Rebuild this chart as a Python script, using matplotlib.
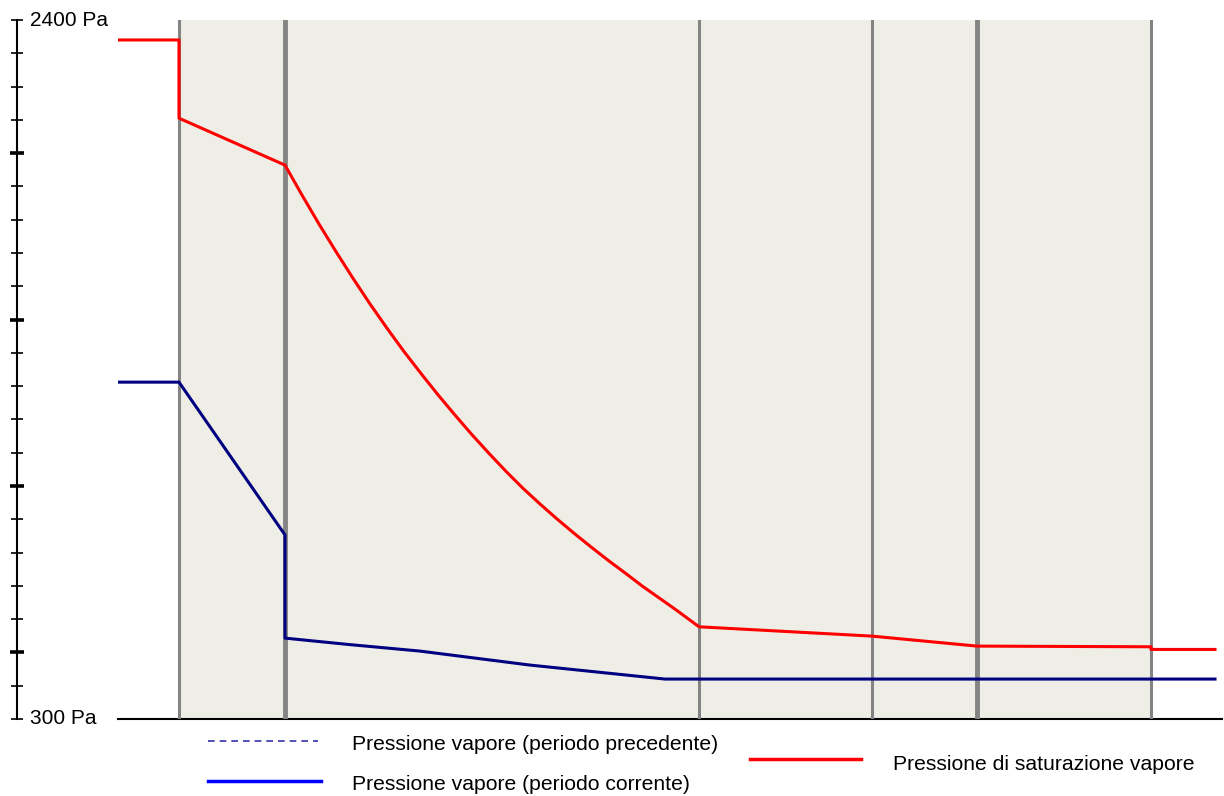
import matplotlib
matplotlib.use("Agg")
import matplotlib.pyplot as plt
from matplotlib.lines import Line2D
from matplotlib.ticker import FixedLocator, NullFormatter
from matplotlib.transforms import blended_transform_factory

# Layer boundaries (position along the wall section) and line widths of the separators
layer_x = [6.1, 16.7, 58.1, 75.4, 85.9, 103.3]
layer_lw = [2.2, 3.5, 2.2, 2.2, 3.5, 2.2]

# Saturation vapour pressure (Pa)
sat_x = [0.0, 6.1, 6.1, 16.7, 18.4, 20.1, 21.8, 23.5, 25.2, 26.9, 28.6, 30.3,
         32.0, 33.7, 35.4, 37.1, 38.8, 40.5, 42.2, 43.9, 45.6, 47.3, 49.0,
         50.7, 52.4, 54.1, 55.8, 58.1, 75.4, 85.9, 103.3, 103.3, 109.7]
sat_p = [2340, 2340, 2105, 1964, 1874, 1787, 1704, 1624, 1547, 1474, 1404, 1338,
         1274, 1213, 1154, 1098, 1044, 993, 946, 901, 858, 817, 777,
         739, 700, 664, 628, 577, 549, 519, 517, 509, 509]

# Vapour pressure, current period (Pa)
vap_x = [0.0, 6.1, 16.7, 16.7, 23.0, 30.2, 41.2, 54.7, 109.7]
vap_p = [1312, 1312, 853, 543, 524, 504, 462, 420, 420]

y_min, y_max = 300, 2400
x_max = 110.4

plt.rcParams["font.family"] = ["Liberation Sans", "DejaVu Sans"]

fig = plt.figure(figsize=(12.24, 7.96), dpi=100)
W, H = 1224, 796
ax = fig.add_axes([118 / W, 1 - 719 / H, (1222 - 118) / W, 699 / H])
ax.set_xlim(0, x_max)
ax.set_ylim(y_min, y_max)

# shaded wall section and layer separators
ax.axvspan(layer_x[0], layer_x[-1], color="#efeee6", zorder=0)
for xv, lw in zip(layer_x, layer_lw):
    ax.axvline(xv, color="#848484", lw=lw, zorder=1)

ax.plot(sat_x, sat_p, color="#ff0000", lw=2.2, zorder=3)
ax.plot(vap_x, vap_p, color="#000080", lw=2.2, zorder=3)

# axes styling
for s in ["top", "right"]:
    ax.spines[s].set_visible(False)
ax.spines["bottom"].set_linewidth(1.5)
ax.spines["bottom"].set_zorder(0.5)
ax.spines["left"].set_position(("outward", 101 * 0.72))
ax.spines["left"].set_linewidth(1.5)
ax.set_xticks([])
ax.yaxis.set_major_locator(FixedLocator([500, 1000, 1500, 2000]))
ax.yaxis.set_minor_locator(FixedLocator(list(range(300, 2401, 100))))
ax.yaxis.set_major_formatter(NullFormatter())
ax.tick_params(axis="y", which="major", direction="inout", length=10, width=2.6)
ax.tick_params(axis="y", which="minor", direction="inout", length=8.6, width=1.2)

tr = blended_transform_factory(fig.transFigure, ax.transData)
ax.text(30 / W, y_max, "2400 Pa", transform=tr, fontsize=15, va="center", ha="left")
ax.text(30 / W, y_min, "300 Pa", transform=tr, fontsize=15, va="center", ha="left")

# legend drawn below the plot
def fx(px):
    return px / W

def fy(py):
    return 1 - py / H

fig.add_artist(Line2D([fx(208), fx(318)], [fy(741), fy(741)], color="#3333aa",
                      lw=1.2, ls=(0, (4, 3))))
fig.add_artist(Line2D([fx(208), fx(321)], [fy(781), fy(781)], color="#0000ff", lw=2.5))
fig.add_artist(Line2D([fx(750), fx(861)], [fy(759), fy(759)], color="#ff0000", lw=2.5))
fig.text(fx(352), fy(745), "Pressione vapore (periodo precedente)", fontsize=15.2, va="center")
fig.text(fx(352), fy(785), "Pressione vapore (periodo corrente)", fontsize=15.2, va="center")
fig.text(fx(893), fy(765), "Pressione di saturazione vapore", fontsize=15.2, va="center")

fig.savefig("out.png", dpi=100)
